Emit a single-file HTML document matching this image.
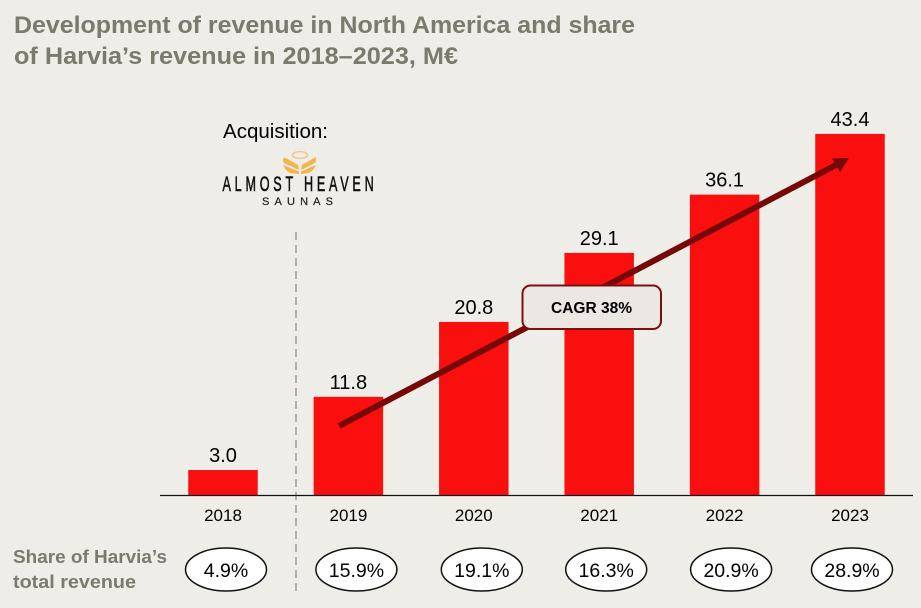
<!DOCTYPE html>
<html lang="en">
<head>
<meta charset="utf-8">
<title>Development of revenue in North America</title>
<style>
html,body{margin:0;padding:0;background:#eeede8;}
svg{display:block;font-family:"Liberation Sans",sans-serif;}
</style>
</head>
<body>
<svg id="chart" xmlns="http://www.w3.org/2000/svg" width="921" height="608" viewBox="0 0 921 608">
  <rect x="0" y="0" width="921" height="608" fill="#eeede8"/>
  <g font-weight="700" font-size="24" fill="#7a7a6d">
    <text x="14" y="33" textLength="621" lengthAdjust="spacingAndGlyphs">Development of revenue in North America and share</text>
    <text x="14" y="64" textLength="444" lengthAdjust="spacingAndGlyphs">of Harvia’s revenue in 2018–2023, M€</text>
  </g>
  <text x="223" y="138" font-size="20" fill="#000" textLength="105" lengthAdjust="spacingAndGlyphs">Acquisition:</text>
  <g>
    <ellipse cx="300" cy="155" rx="7.500" ry="3.400" fill="none" stroke="#f0c98a" stroke-width="1.500"/>
    <path d="M283 159 Q284 157 286 158 L298 165 L299 170 L284 163 Q283 162 283 159 Z M283 165 L299 171.500 L299 174 L290 173 Q285 170 283 165 Z" fill="#f4b44c"/>
    <path d="M316 158 Q316 157 314 158 L302 165 L301 170 L315 163 Q316 162 316 158 Z M316 165 L301 171.500 L301 174 L309 173 Q314 170 316 165 Z" fill="#f4b44c"/>
    <text transform="translate(222.500 191) scale(0.6 1)" x="0" y="0" font-size="21" fill="#111" stroke="#111" stroke-width="0.600" textLength="252" lengthAdjust="spacing">ALMOST HEAVEN</text>
    <text x="262" y="205" font-size="11" fill="#222" stroke="#222" stroke-width="0.200" textLength="71" lengthAdjust="spacing">SAUNAS</text>
  </g>
  <line x1="296" y1="232" x2="296" y2="593" stroke="#9a9a96" stroke-width="1.500" stroke-dasharray="8 5"/>
  <g id="bars"></g>
  <line x1="160" y1="495.500" x2="913" y2="495.500" stroke="#111" stroke-width="1.300"/>
  <g id="labels"></g>
  <g id="years"></g>
  <g>
    <line x1="339" y1="426" x2="838" y2="164" stroke="#760808" stroke-width="6"/>
    <polygon points="849,158 832,158.500 840,172" fill="#760808"/>
  </g>
  <g>
    <rect x="522.500" y="285.500" width="138.500" height="43.500" rx="8" ry="8" fill="#ebe8e3" stroke="#7c0f0f" stroke-width="2"/>
    <text x="551" y="313" font-size="16" font-weight="700" fill="#000" textLength="81" lengthAdjust="spacingAndGlyphs">CAGR 38%</text>
  </g>
  <g font-weight="700" font-size="18.500" fill="#7a7a6d">
    <text x="13" y="563" textLength="154" lengthAdjust="spacingAndGlyphs">Share of Harvia’s</text>
    <text x="13" y="588" textLength="123" lengthAdjust="spacingAndGlyphs">total revenue</text>
  </g>
  <g id="shares"></g>
</svg>
<script>
const categories = ["2018", "2019", "2020", "2021", "2022", "2023"];
const revenue = [3.0, 11.8, 20.8, 29.1, 36.1, 43.4];
const sharePercent = [4.9, 15.9, 19.1, 16.3, 20.9, 28.9];

const NS = "http://www.w3.org/2000/svg";
const baseY = 495;
const unitPx = 8.32;
const firstCenter = 223;
const stepX = 125.4;
const barWidth = 69.5;
const shareNudge = [3, 8, 8, 7, 6.5, 2];

function xCenter(i) { return firstCenter + stepX * i; }
function yValue(v) { return baseY - v * unitPx; }
function make(tag, attrs, parent) {
  const el = document.createElementNS(NS, tag);
  for (const k in attrs) el.setAttribute(k, attrs[k]);
  parent.appendChild(el);
  return el;
}

const barsG = document.getElementById("bars");
const labelsG = document.getElementById("labels");
const yearsG = document.getElementById("years");
const sharesG = document.getElementById("shares");

categories.forEach(function (year, i) {
  const cx = xCenter(i);
  const top = yValue(revenue[i]);

  const bar = make("rect", { x: cx - barWidth / 2, y: top, width: barWidth, height: baseY - top, fill: "#fa0f0f" }, barsG);
  
  

  const val = make("text", { x: cx, y: top - 8, "font-size": 20, "text-anchor": "middle", fill: "#000" }, labelsG);
  val.textContent = revenue[i].toFixed(1);
  
  

  const yr = make("text", { x: cx, y: 521, "font-size": 17, "text-anchor": "middle", fill: "#000" }, yearsG);
  yr.textContent = year;
  
  

  const sx = cx + shareNudge[i];
  const ell = make("ellipse", { cx: sx, cy: 569.5, rx: 40.5, ry: 21.5, fill: "#fff", stroke: "#111", "stroke-width": 1.5 }, sharesG);
  
  

  const st = make("text", { x: sx, y: 577, "font-size": 19.5, "text-anchor": "middle", fill: "#000" }, sharesG);
  st.textContent = sharePercent[i].toFixed(1) + "%";
  
  
});
</script>
</body>
</html>
